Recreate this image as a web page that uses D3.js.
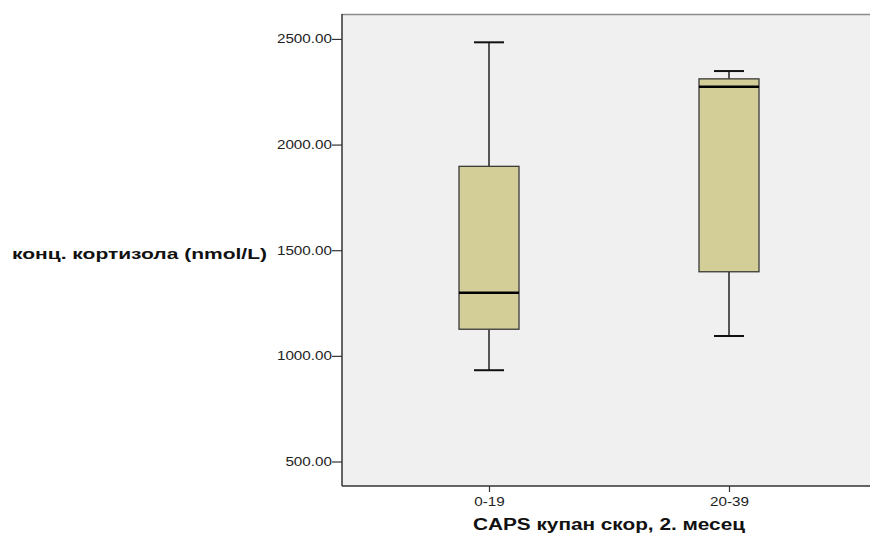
<!DOCTYPE html>
<html>
<head>
<meta charset="utf-8">
<script src="https://cdn.jsdelivr.net/npm/d3@7"></script>
<style>
  body { margin: 0; background: #fff; }
  svg { display: block; }
</style>
</head>
<body>
<div id="chart"></div>
<script>
// box plot data
const GROUPS = ["0-19", "20-39"];
const LOW = [932, 1094];
const Q1 = [1126, 1398];
const MEDIAN = [1299, 2274];
const Q3 = [1897, 2311];
const HIGH = [2484, 2348];
const Y_TICKS = [500, 1000, 1500, 2000, 2500];

const Y_LABEL = "конц. кортизола (nmol/L)";
const X_LABEL = "CAPS купан скор, 2. месец";

const WIDTH = 870;
const HEIGHT = 535;
const plot = { left: 342, top: 14, right: 876, bottom: 486 };
// the original picture is a bit stretched sideways, so text is widened to match
const STRETCH = 1.27;

const svg = d3.select('#chart').append('svg')
  .attr('width', WIDTH)
  .attr('height', HEIGHT)
  .style('font-family', '"Liberation Sans", Arial, sans-serif');

const y = d3.scaleLinear().domain([384, 2618]).range([plot.bottom, plot.top]);
const x = d3.scalePoint().domain(GROUPS).range([plot.left, plot.right]).padding(0.6125);

function widen(sel, factor) {
  sel.each(function() {
    const w = this.getComputedTextLength();
    d3.select(this).attr('textLength', w * factor).attr('lengthAdjust', 'spacingAndGlyphs');
  });
}

// plot background
svg.append('rect')
  .attr('x', plot.left).attr('y', plot.top)
  .attr('width', plot.right - plot.left).attr('height', plot.bottom - plot.top)
  .attr('fill', '#f0f0f0');

// top frame line
svg.append('line')
  .attr('x1', plot.left).attr('x2', plot.right)
  .attr('y1', plot.top + 0.5).attr('y2', plot.top + 0.5)
  .attr('stroke', '#8a8a8a').attr('stroke-width', 1.5);

// axes
const yAxis = svg.append('g')
  .attr('transform', `translate(${plot.left},0)`)
  .call(d3.axisLeft(y).tickValues(Y_TICKS).tickFormat(d3.format('.2f')).tickSize(10).tickPadding(0));
const xAxis = svg.append('g')
  .attr('transform', `translate(0,${plot.bottom})`)
  .call(d3.axisBottom(x).tickSize(6).tickPadding(5));

[yAxis, xAxis].forEach(g => {
  g.select('.domain').attr('stroke', '#333').attr('stroke-width', 1.5);
  g.selectAll('.tick line').attr('stroke', '#333').attr('stroke-width', 1.2);
  g.selectAll('.tick text')
    .attr('fill', '#222')
    .style('font-size', '12px')
    .style('font-family', '"Liberation Sans", Arial, sans-serif')
    .call(widen, STRETCH);
});
xAxis.select('.domain').attr('d', `M${plot.left},0H${plot.right}`);
yAxis.select('.domain').attr('d', `M0,${plot.top}V${plot.bottom}`);

// boxes
const BOX_W = 60;
const CAP_W = 30;
const rows = GROUPS.map((g, i) => ({
  g, low: LOW[i], q1: Q1[i], med: MEDIAN[i], q3: Q3[i], high: HIGH[i]
}));

const box = svg.append('g').selectAll('g')
  .data(rows)
  .join('g');

// whiskers
box.append('line')
  .attr('x1', d => x(d.g)).attr('x2', d => x(d.g))
  .attr('y1', d => y(d.high)).attr('y2', d => y(d.q3))
  .attr('stroke', '#222').attr('stroke-width', 1.5);
box.append('line')
  .attr('x1', d => x(d.g)).attr('x2', d => x(d.g))
  .attr('y1', d => y(d.q1)).attr('y2', d => y(d.low))
  .attr('stroke', '#222').attr('stroke-width', 1.5);
// caps
box.selectAll('line.cap')
  .data(d => [{ g: d.g, v: d.high }, { g: d.g, v: d.low }])
  .join('line')
  .attr('class', 'cap')
  .attr('x1', d => x(d.g) - CAP_W / 2).attr('x2', d => x(d.g) + CAP_W / 2)
  .attr('y1', d => y(d.v)).attr('y2', d => y(d.v))
  .attr('stroke', '#111').attr('stroke-width', 2);

box.append('rect')
  .attr('x', d => x(d.g) - BOX_W / 2)
  .attr('y', d => y(d.q3))
  .attr('width', BOX_W)
  .attr('height', d => y(d.q1) - y(d.q3))
  .attr('fill', '#d3ce98')
  .attr('stroke', '#3a3a3a')
  .attr('stroke-width', 1.3);

box.append('line')
  .attr('x1', d => x(d.g) - BOX_W / 2).attr('x2', d => x(d.g) + BOX_W / 2)
  .attr('y1', d => y(d.med)).attr('y2', d => y(d.med))
  .attr('stroke', '#000').attr('stroke-width', 2.5);

// titles
svg.append('text')
  .attr('x', 267).attr('y', 255)
  .attr('text-anchor', 'end')
  .attr('dominant-baseline', 'middle')
  .attr('textLength', 255).attr('lengthAdjust', 'spacingAndGlyphs')
  .style('font-size', '15px').style('font-weight', 'bold')
  .attr('fill', '#111')
  .text(Y_LABEL);

svg.append('text')
  .attr('x', 609).attr('y', 526)
  .attr('text-anchor', 'middle')
  .attr('dominant-baseline', 'middle')
  .attr('textLength', 272).attr('lengthAdjust', 'spacingAndGlyphs')
  .style('font-size', '16px').style('font-weight', 'bold')
  .attr('fill', '#111')
  .text(X_LABEL);
</script>
</body>
</html>
